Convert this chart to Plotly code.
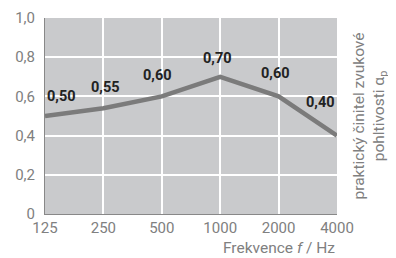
import plotly.graph_objects as go

categories = ["125", "250", "500", "1000", "2000", "4000"]
values = [0.50, 0.54, 0.60, 0.70, 0.60, 0.40]
labels = ["0,50", "0,55", "0,60", "0,70", "0,60", "0,40"]
y_ticks = [0, 0.2, 0.4, 0.6, 0.8, 1.0]
y_ticktext = ["0", "0,2", "0,4", "0,6", "0,8", "1,0"]

FONT = "Roboto, Liberation Sans, Arial, sans-serif"
xs = list(range(len(categories)))

fig = go.Figure()
fig.add_trace(go.Scatter(x=xs, y=values, mode="lines",
                         line=dict(color="#7b7b7b", width=4.5), hoverinfo="skip"))

anchors = ["left", "center", "center", "center", "center", "right"]
yshifts = [9, 10, 10, 8, 12, 23]
xshifts = [0, 2, -4, -3, -3, 0]
annotations = []
for x, v, t, a, ys, xsft in zip(xs, values, labels, anchors, yshifts, xshifts):
    annotations.append(dict(x=x, y=v, xref="x", yref="y", text="<b>" + t + "</b>",
                            showarrow=False, xanchor=a, yanchor="bottom",
                            yshift=ys, xshift=xsft,
                            font=dict(family=FONT, size=14.5, color="#222222")))

annotations.append(dict(text="Frekvence <i>f</i> / Hz", xref="paper", yref="paper",
                        x=1.0, y=-0.173, xanchor="right", yanchor="middle",
                        showarrow=False,
                        font=dict(family=FONT, size=15.5, color="#808080")))
annotations.append(dict(text="praktický činitel zvukové<br>pohltivosti α<sub>p</sub>",
                        xref="paper", yref="paper", x=1.036, y=0.5,
                        xanchor="left", yanchor="middle", textangle=-90,
                        showarrow=False,
                        font=dict(family=FONT, size=15.5, color="#808080")))

fig.update_layout(
    width=388, height=250,
    margin=dict(l=37, r=59, t=10, b=44),
    paper_bgcolor="white", plot_bgcolor="#c9cacc",
    showlegend=False,
    font=dict(family=FONT, size=15, color="#808080"),
    annotations=annotations,
)
fig.update_xaxes(range=[0, 5], tickvals=xs, ticktext=categories,
                 showgrid=True, gridcolor="white", gridwidth=2,
                 showline=True, linecolor="#888888", linewidth=1,
                 ticks="", tickfont=dict(family=FONT, size=15, color="#808080"),
                 zeroline=False, automargin=False)
fig.update_yaxes(range=[0, 1.0], tickvals=y_ticks, ticktext=y_ticktext,
                 showgrid=True, gridcolor="white", gridwidth=2,
                 showline=True, linecolor="#888888", linewidth=1,
                 ticks="", ticklabelstandoff=6,
                 tickfont=dict(family=FONT, size=15, color="#808080"),
                 zeroline=False, automargin=False)

fig.write_html("out.html")
